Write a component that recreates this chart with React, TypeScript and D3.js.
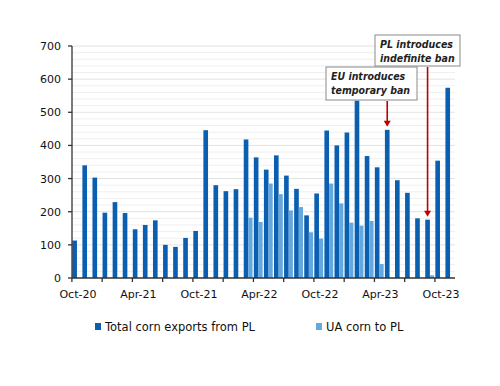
import React, { useEffect, useRef } from 'react';
import * as d3 from 'd3';

const months = [
  'Oct-20', 'Nov-20', 'Dec-20', 'Jan-21', 'Feb-21', 'Mar-21', 'Apr-21', 'May-21', 'Jun-21', 'Jul-21',
  'Aug-21', 'Sep-21', 'Oct-21', 'Nov-21', 'Dec-21', 'Jan-22', 'Feb-22', 'Mar-22', 'Apr-22', 'May-22',
  'Jun-22', 'Jul-22', 'Aug-22', 'Sep-22', 'Oct-22', 'Nov-22', 'Dec-22', 'Jan-23', 'Feb-23', 'Mar-23',
  'Apr-23', 'May-23', 'Jun-23', 'Jul-23', 'Aug-23', 'Sep-23', 'Oct-23', 'Nov-23',
];

const totalExports = [
  113, 340, 303, 197, 229, 196, 147, 160, 174, 100,
  94, 121, 142, 446, 280, 262, 268, 418, 364, 327,
  370, 309, 269, 189, 255, 445, 400, 439, 535, 368,
  334, 447, 295, 257, 180, 176, 354, 574,
];

const uaCorn = [
  0, 0, 0, 0, 0, 0, 0, 0, 0, 0,
  0, 0, 0, 0, 0, 0, 0, 182, 169, 285,
  253, 204, 214, 138, 119, 285, 225, 167, 158, 172,
  42, 0, 0, 0, 0, 8, 0, 0,
];

const yTicks = [0, 100, 200, 300, 400, 500, 600, 700];
const xLabels = ['Oct-20', 'Apr-21', 'Oct-21', 'Apr-22', 'Oct-22', 'Apr-23', 'Oct-23'];
const seriesNames = ['Total corn exports from PL', 'UA corn to PL'];
const colors = ['#0a5fb0', '#64a8e0'];

const annotations = [
  { month: 'May-23', value: 447, lines: ['EU introduces', 'temporary ban'], box: [326, 67, 91, 33] },
  { month: 'Sep-23', value: 176, lines: ['PL introduces', 'indefinite ban'], box: [375, 35, 85, 31] },
];

const App: React.FC = () => {
  const svgRef = useRef<SVGSVGElement>(null);

  useEffect(() => {
    if (!svgRef.current) return;
    const svg = d3.select(svgRef.current);
    svg.selectAll('*').remove();

    const width = 500;
    const height = 386;
    const margin = { top: 46, right: 45, bottom: 108, left: 72 };
    const font = "'DejaVu Sans', Verdana, sans-serif";
    const condensed = "'DejaVu Sans Condensed', 'DejaVu Sans', sans-serif";

    const x = d3
      .scaleBand<string>()
      .domain(months)
      .range([margin.left, width - margin.right])
      .paddingInner(0.08)
      .paddingOuter(0.03);

    const xs = d3
      .scaleBand<string>()
      .domain(['total', 'ua'])
      .range([0, x.bandwidth()]);

    const y = d3
      .scaleLinear()
      .domain([0, 700])
      .range([height - margin.bottom, margin.top]);

    const step = x.step();
    const x0 = margin.left;

    // Gridlines every 20
    svg
      .append('g')
      .selectAll('line')
      .data(d3.range(20, 701, 20))
      .enter()
      .append('line')
      .attr('x1', x0)
      .attr('x2', width - margin.right)
      .attr('y1', d => y(d))
      .attr('y2', d => y(d))
      .attr('stroke', d => (d % 100 === 0 ? '#e2e2e2' : '#efefef'))
      .attr('stroke-width', 1);

    // Bars
    svg
      .append('g')
      .selectAll('rect')
      .data(months)
      .enter()
      .append('rect')
      .attr('x', d => (x(d) ?? 0) + (xs('total') ?? 0))
      .attr('y', (d, i) => y(totalExports[i]))
      .attr('width', xs.bandwidth())
      .attr('height', (d, i) => y(0) - y(totalExports[i]))
      .attr('fill', colors[0]);

    svg
      .append('g')
      .selectAll('rect')
      .data(months)
      .enter()
      .append('rect')
      .attr('x', d => (x(d) ?? 0) + (xs('ua') ?? 0))
      .attr('y', (d, i) => y(uaCorn[i]))
      .attr('width', xs.bandwidth() * 0.9)
      .attr('height', (d, i) => y(0) - y(uaCorn[i]))
      .attr('fill', colors[1]);

    // Y axis
    const yAxis = svg.append('g');
    yAxis
      .append('line')
      .attr('x1', x0)
      .attr('x2', x0)
      .attr('y1', y(700))
      .attr('y2', y(0))
      .attr('stroke', '#333')
      .attr('stroke-width', 1.3);
    yTicks.forEach(t => {
      yAxis
        .append('line')
        .attr('x1', x0 - 4)
        .attr('x2', x0)
        .attr('y1', y(t))
        .attr('y2', y(t))
        .attr('stroke', '#333')
        .attr('stroke-width', 1.3);
      yAxis
        .append('text')
        .attr('x', x0 - 11)
        .attr('y', y(t) + 4)
        .attr('text-anchor', 'end')
        .style('font-family', font)
        .style('font-size', '11px')
        .style('fill', '#111')
        .text(t);
    });

    // X axis
    const xAxis = svg.append('g');
    xAxis
      .append('line')
      .attr('x1', x0)
      .attr('x2', width - margin.right)
      .attr('y1', y(0))
      .attr('y2', y(0))
      .attr('stroke', '#333')
      .attr('stroke-width', 1.3);
    months.forEach((m, i) => {
      if (i % 3 === 0) {
        const tx = (x(m) ?? 0) - (step * x.paddingInner()) / 2;
        xAxis
          .append('line')
          .attr('x1', tx)
          .attr('x2', tx)
          .attr('y1', y(0))
          .attr('y2', y(0) + 4)
          .attr('stroke', '#333')
          .attr('stroke-width', 1.3);
      }
    });
    xLabels.forEach(l => {
      xAxis
        .append('text')
        .attr('x', (x(l) ?? 0) + x.bandwidth() / 2 + 1)
        .attr('y', y(0) + 20)
        .attr('text-anchor', 'middle')
        .style('font-family', font)
        .style('font-size', '11px')
        .style('fill', '#111')
        .text(l);
    });

    // Annotations
    annotations.forEach(a => {
      const [bx, by, bw, bh] = a.box;
      const ax = (x(a.month) ?? 0) + (xs('total') ?? 0) + xs.bandwidth() / 2;
      const tipY = y(a.value) - 3;
      svg
        .append('line')
        .attr('x1', ax)
        .attr('x2', ax)
        .attr('y1', by + bh + 1)
        .attr('y2', tipY - 5)
        .attr('stroke', '#c00000')
        .attr('stroke-width', 1.6);
      svg
        .append('path')
        .attr('d', `M${ax - 3.5},${tipY - 6}L${ax + 3.5},${tipY - 6}L${ax},${tipY}Z`)
        .attr('fill', '#c00000');
      svg
        .append('rect')
        .attr('x', bx)
        .attr('y', by)
        .attr('width', bw)
        .attr('height', bh)
        .attr('fill', '#fff')
        .attr('stroke', '#8a8a8a')
        .attr('stroke-width', 1);
      a.lines.forEach((line, j) => {
        svg
          .append('text')
          .attr('x', bx + 5)
          .attr('y', by + 13 + j * 14)
          .style('font-family', condensed)
          .style('font-size', '10.5px')
          .style('font-weight', 'bold')
          .style('font-style', 'italic')
          .style('fill', '#222')
          .text(line);
      });
    });

    // Legend
    const legendX = [95, 316];
    seriesNames.forEach((name, i) => {
      svg
        .append('rect')
        .attr('x', legendX[i])
        .attr('y', 323)
        .attr('width', 6)
        .attr('height', 7)
        .attr('fill', colors[i]);
      svg
        .append('text')
        .attr('x', legendX[i] + 10)
        .attr('y', 331)
        .style('font-family', font)
        .style('font-size', '11.5px')
        .style('fill', '#111')
        .text(name);
    });
  }, []);

  return (
    <svg
      ref={svgRef}
      width={500}
      height={386}
      style={{ position: 'absolute', left: 0, top: 0, background: '#fff' }}
    />
  );
};

export default App;
